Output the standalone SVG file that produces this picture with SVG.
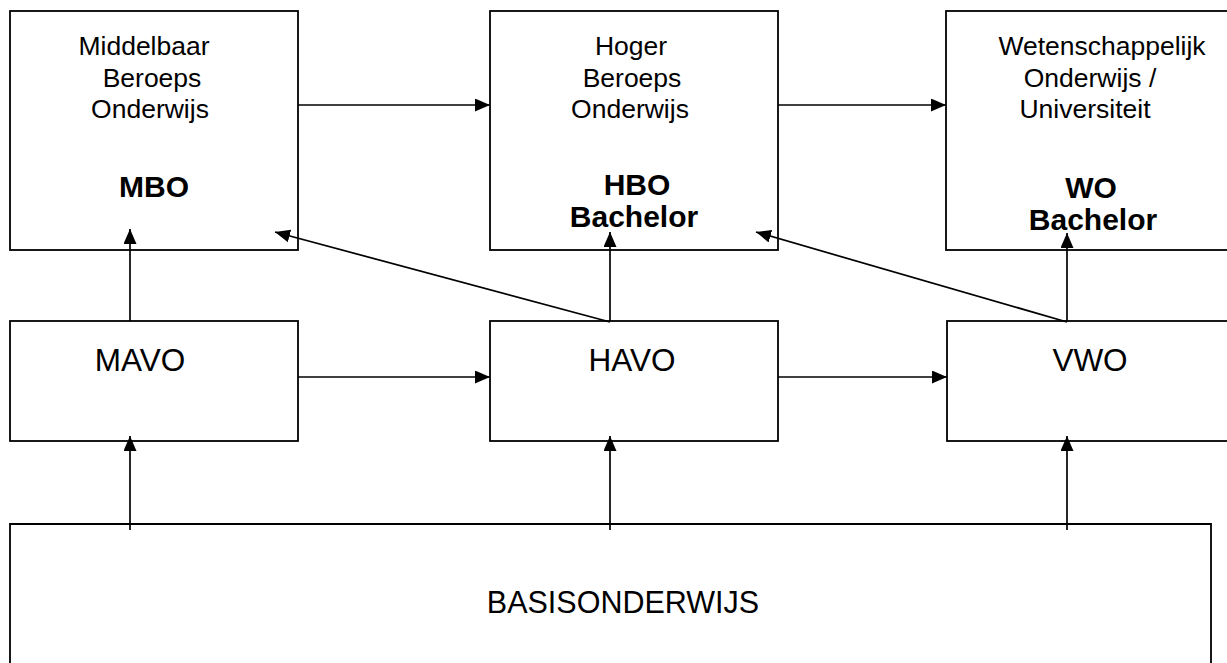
<svg xmlns="http://www.w3.org/2000/svg" width="1227" height="663" viewBox="0 0 1227 663">
<style>
.box{fill:#fff;stroke:#000;stroke-width:1.8}
.t{font-family:"Liberation Sans",Arial,sans-serif;font-size:26.5px;fill:#000;text-anchor:middle}
.b{font-family:"Liberation Sans",Arial,sans-serif;font-size:30px;font-weight:bold;fill:#000;text-anchor:middle}
.m{font-family:"Liberation Sans",Arial,sans-serif;font-size:31.5px;fill:#000;text-anchor:middle}
.c{stroke:#000;stroke-width:1.7;fill:none;marker-end:url(#ah)}
</style>
<defs>
<marker id="ah" markerUnits="userSpaceOnUse" markerWidth="15" markerHeight="13" refX="15" refY="6.5" orient="auto" viewBox="0 0 15 13">
<path d="M0,0 L15,6.5 L0,13 Z" fill="#000"/>
</marker>
</defs>
<rect width="1227" height="663" fill="#fff"/>
<g id="basis">
<path class="box" d="M10,663 L10,524 L1211,524 L1211,663"/>
<text class="m" x="623" y="613" style="font-size:30.5px">BASISONDERWIJS</text>
</g>
<g id="mbo">
<rect class="box" x="10" y="11" width="288" height="239"/>
<text class="t" x="144" y="55">Middelbaar</text>
<text class="t" x="152" y="86.5">Beroeps</text>
<text class="t" x="150" y="118">Onderwijs</text>
<text class="b" x="154" y="197">MBO</text>
</g>
<g id="hbo">
<rect class="box" x="490" y="11" width="288" height="239"/>
<text class="t" x="631" y="55">Hoger</text>
<text class="t" x="632" y="86.5">Beroeps</text>
<text class="t" x="630" y="118">Onderwijs</text>
<text class="b" x="637" y="195">HBO</text>
<text class="b" x="634" y="227">Bachelor</text>
</g>
<g id="wo">
<rect class="box" x="946" y="11" width="290" height="239"/>
<text class="t" x="1102" y="55">Wetenschappelijk</text>
<text class="t" x="1090" y="86.5">Onderwijs /</text>
<text class="t" x="1085" y="118">Universiteit</text>
<text class="b" x="1091" y="198">WO</text>
<text class="b" x="1093" y="230">Bachelor</text>
</g>
<g id="mavo">
<rect class="box" x="10" y="321" width="288" height="120"/>
<text class="m" x="140" y="371">MAVO</text>
</g>
<g id="havo">
<rect class="box" x="490" y="321" width="288" height="120"/>
<text class="m" x="632" y="371">HAVO</text>
</g>
<g id="vwo">
<rect class="box" x="947" y="321" width="290" height="120"/>
<text class="m" x="1090" y="371">VWO</text>
</g>
<g id="connectors">
<line class="c" x1="298" y1="105" x2="490" y2="105"/>
<line class="c" x1="778" y1="105" x2="946" y2="105"/>
<line class="c" x1="298" y1="377" x2="490" y2="377"/>
<line class="c" x1="778" y1="377" x2="947" y2="377"/>
<line class="c" x1="130" y1="321" x2="130" y2="229"/>
<line class="c" x1="610" y1="321" x2="610" y2="232"/>
<line class="c" x1="1067" y1="321" x2="1067" y2="233"/>
<line class="c" x1="610" y1="322" x2="275" y2="232"/>
<line class="c" x1="1067" y1="322" x2="756" y2="232"/>
<line class="c" x1="130" y1="530" x2="130" y2="436"/>
<line class="c" x1="610" y1="530" x2="610" y2="436"/>
<line class="c" x1="1067" y1="530" x2="1067" y2="436"/>
</g>
</svg>
